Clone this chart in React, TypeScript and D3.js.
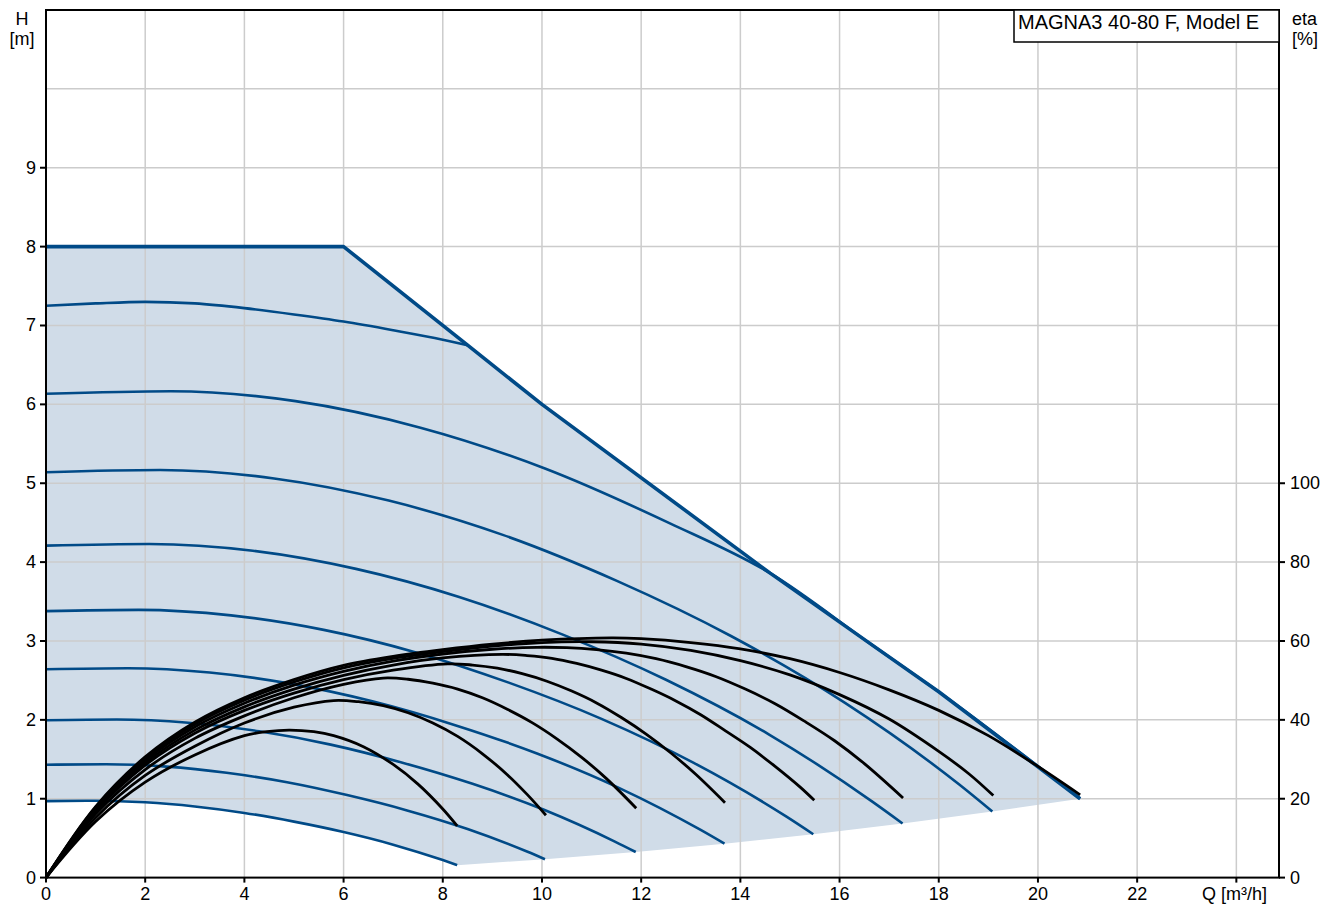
import * as d3 from 'd3';

const WIDTH = 1325;
const HEIGHT = 905;
const margin = { top: 10, right: 46, bottom: 27.4, left: 46 };
const Q_MAX = 24.86;
const H_MAX = 11;
const ETA_MAX = 220; // right axis: 20 % per metre of head

const qTicks = [0, 2, 4, 6, 8, 10, 12, 14, 16, 18, 20, 22, 24];
const qLabels = [0, 2, 4, 6, 8, 10, 12, 14, 16, 18, 20, 22];
const hTicks = [0, 1, 2, 3, 4, 5, 6, 7, 8, 9];
const hGrid = [1, 2, 3, 4, 5, 6, 7, 8, 9, 10];
const etaTicks = [0, 20, 40, 60, 80, 100];

// max curve [Q m³/h, H m]: constant-pressure part, then the power limit
const maxCurve = [[0, 8], [6, 8], [8.5, 6.75], [10, 6], [14.6, 3.86], [16.61, 2.97], [18, 2.356], [20.85, 1.0]];

// speed curves [Q, H], highest first
const curveA = [[0, 7.25], [1, 7.28], [2, 7.3], [3, 7.28], [4, 7.22], [5, 7.14], [6, 7.05], [7, 6.94], [8, 6.82], [8.5, 6.75]];
const curveB = [[0, 6.135], [2.52, 6.167], [5.03, 6.041], [7.55, 5.705], [10.06, 5.187], [12.58, 4.491], [14.6, 3.86], [16.61, 2.97], [18, 2.356], [20.85, 1.0]];
const curveC = [[0, 5.14], [2.3, 5.167], [4.6, 5.061], [6.91, 4.78], [9.21, 4.345], [11.51, 3.762], [13.81, 3.063], [16.11, 2.215], [18.42, 1.176], [19.08, 0.837]];
const curveD = [[0, 4.209], [2.08, 4.23], [4.17, 4.144], [6.25, 3.914], [8.33, 3.558], [10.42, 3.081], [12.5, 2.508], [14.58, 1.814], [16.66, 0.963], [17.27, 0.686]];
const curveE = [[0, 3.378], [1.87, 3.395], [3.73, 3.325], [5.6, 3.141], [7.46, 2.855], [9.33, 2.472], [11.2, 2.013], [13.06, 1.455], [14.93, 0.773], [15.47, 0.55]];
const curveF = [[0, 2.641], [1.65, 2.654], [3.3, 2.6], [4.95, 2.456], [6.6, 2.232], [8.25, 1.933], [9.9, 1.574], [11.55, 1.138], [13.2, 0.604], [13.68, 0.43]];
const curveG = [[0, 1.995], [1.43, 2.005], [2.87, 1.964], [4.3, 1.855], [5.74, 1.686], [7.17, 1.46], [8.6, 1.189], [10.04, 0.86], [11.47, 0.457], [11.89, 0.325]];
const curveH = [[0, 1.43], [1.21, 1.437], [2.43, 1.407], [3.64, 1.329], [4.86, 1.209], [6.07, 1.046], [7.28, 0.852], [8.5, 0.616], [9.71, 0.327], [10.06, 0.233]];
const curveI = [[0, 0.97], [1, 0.975], [2, 0.955], [3, 0.902], [4, 0.82], [5, 0.71], [6, 0.578], [7, 0.418], [8, 0.222], [8.29, 0.158]];

// efficiency curves [Q, eta %], lowest speed first
const eta1 = [[0, 0], [1, 14.2], [2, 24.2], [3, 31.1], [4, 36.0], [4.45, 37.0], [4.9, 37.4], [5.4, 37.0], [5.8, 36.0], [6.4, 33.2], [7.0, 28.7], [7.5, 23.7], [8.0, 17.4], [8.29, 13.1]];
const eta2 = [[0, 0], [1, 15.2], [2, 25.9], [3, 33.3], [4, 39.2], [5, 43.2], [5.8, 44.9], [6.3, 44.6], [6.8, 43.6], [7.3, 41.8], [7.8, 39.2], [8.3, 35.8], [8.8, 31.4], [9.3, 26.1], [9.7, 21.1], [10.08, 15.8]];
const eta3 = [[0, 0], [1, 16.1], [2, 27.4], [3, 35.3], [4, 41.0], [5, 45.6], [6, 49.0], [6.8, 50.6], [7.3, 50.3], [7.8, 49.3], [8.3, 47.8], [8.8, 45.6], [9.3, 42.7], [9.8, 39.3], [10.3, 35.2], [10.8, 30.5], [11.3, 25.1], [11.9, 17.6]];
const eta4 = [[0, 0], [1, 16.7], [2, 28.5], [3, 36.6], [4, 42.4], [5, 46.8], [6, 50.2], [7, 52.6], [8.1, 54.2], [8.6, 53.9], [9.1, 53.1], [9.6, 51.7], [10.1, 49.8], [10.6, 47.3], [11.1, 44.3], [11.6, 40.6], [12.1, 36.4], [12.6, 31.6], [13.1, 26.2], [13.69, 19.0]];
const eta5 = [[0, 0], [1, 17.1], [2, 29.1], [3, 37.4], [4, 43.3], [5, 47.8], [6, 51.3], [7, 53.9], [8, 55.7], [9.2, 56.6], [9.7, 56.3], [10.2, 55.6], [10.7, 54.3], [11.2, 52.6], [11.7, 50.5], [12.2, 47.8], [12.7, 44.8], [13.2, 41.3], [13.7, 37.2], [14.2, 33.0], [14.7, 28.2], [15.2, 23.0], [15.49, 19.6]];
const eta6 = [[0, 0], [1, 17.5], [2, 29.7], [3, 38.2], [4, 44.2], [5, 48.8], [6, 52.3], [7, 54.9], [8, 56.7], [9, 57.9], [9.9, 58.4], [10.5, 58.3], [11.1, 57.8], [11.7, 56.9], [12.3, 55.5], [12.9, 53.5], [13.5, 51.0], [14.1, 47.8], [14.7, 44.1], [15.3, 39.6], [15.9, 34.7], [16.5, 28.9], [17.28, 20.2]];
const eta7 = [[0, 0], [1, 17.8], [2, 30.2], [3, 38.9], [4, 45.0], [5, 49.6], [6, 53.2], [7, 55.6], [8, 57.3], [9, 58.7], [10, 59.6], [11, 59.8], [12, 59.2], [13, 57.6], [14, 55.0], [15, 51.4], [16, 46.4], [17, 40.2], [18, 32.0], [18.6, 26.4], [19.1, 20.8]];
const eta8 = [[0, 0], [1, 18.0], [2, 30.6], [3, 39.4], [4, 45.6], [5, 50.2], [6, 53.8], [7, 56.1], [8, 57.8], [9, 59.2], [10, 60.2], [11.4, 60.8], [12, 60.6], [13, 59.6], [14, 58.0], [15, 55.5], [16, 52.0], [17, 47.6], [18, 42.4], [19, 36.0], [20, 28.2], [20.85, 21.0]];

const speedCurves = [curveA, curveB, curveC, curveD, curveE, curveF, curveG, curveH, curveI];
const etaCurves = [eta1, eta2, eta3, eta4, eta5, eta6, eta7, eta8];

const BLUE = '#004a87';
const FILL = '#d0dce8';
const GRID = '#cccccc';
const FONT = '"Liberation Sans", Arial, sans-serif';

export default function App() {
  const x = d3.scaleLinear().domain([0, Q_MAX]).range([margin.left, WIDTH - margin.right]);
  const y = d3.scaleLinear().domain([0, H_MAX]).range([HEIGHT - margin.bottom, margin.top]);
  const yEta = d3.scaleLinear().domain([0, ETA_MAX]).range([HEIGHT - margin.bottom, margin.top]);

  const left = margin.left;
  const right = WIDTH - margin.right;
  const top = margin.top;
  const bottom = HEIGHT - margin.bottom;

  const headLine = d3.line<number[]>().x((d) => x(d[0])).y((d) => y(d[1])).curve(d3.curveMonotoneX);
  const straightLine = d3.line<number[]>().x((d) => x(d[0])).y((d) => y(d[1]));
  const etaLine = d3.line<number[]>().x((d) => x(d[0])).y((d) => yEta(d[1])).curve(d3.curveCatmullRom.alpha(0.5));

  // shaded operating range: max curve, curve end points, lowest curve back to Q = 0
  const endPoints = [curveC, curveD, curveE, curveF, curveG, curveH, curveI].map((c) => c[c.length - 1]);
  const area = [...maxCurve, ...endPoints, ...curveI.slice().reverse().slice(1)];

  return (
    <div style={{ position: 'absolute', left: 0, top: 0 }}>
      <svg width={WIDTH} height={HEIGHT} style={{ display: 'block', fontFamily: FONT }}>
        <rect width={WIDTH} height={HEIGHT} fill="#fff" />
        <path d={straightLine(area) + 'Z'} fill={FILL} />

        {qTicks.slice(1).map((t) => (
          <line key={`gx-${t}`} x1={x(t)} x2={x(t)} y1={top} y2={bottom} stroke={GRID} strokeWidth={1.5} />
        ))}
        {hGrid.map((t) => (
          <line key={`gy-${t}`} x1={left} x2={right} y1={y(t)} y2={y(t)} stroke={GRID} strokeWidth={1.5} />
        ))}

        {speedCurves.map((c, i) => (
          <path key={`s-${i}`} d={headLine(c) ?? undefined} fill="none" stroke={BLUE} strokeWidth={2.6} />
        ))}
        <path d={straightLine(maxCurve) ?? undefined} fill="none" stroke={BLUE} strokeWidth={3.6} strokeLinejoin="round" />

        {etaCurves.map((c, i) => (
          <path key={`e-${i}`} d={etaLine(c) ?? undefined} fill="none" stroke="#000" strokeWidth={2.8} />
        ))}

        <rect x={left} y={top} width={right - left} height={bottom - top} fill="none" stroke="#000" strokeWidth={2} />

        {hTicks.map((t) => (
          <g key={`hy-${t}`}>
            <line x1={left - 6} x2={left} y1={y(t)} y2={y(t)} stroke="#000" strokeWidth={2} />
            <text x={left - 10} y={y(t) + 6} textAnchor="end" fontSize={18}>{t}</text>
          </g>
        ))}
        {etaTicks.map((t) => (
          <g key={`ey-${t}`}>
            <line x1={right} x2={right + 6} y1={yEta(t)} y2={yEta(t)} stroke="#000" strokeWidth={2} />
            <text x={right + 11} y={yEta(t) + 6} fontSize={18}>{t}</text>
          </g>
        ))}
        {qTicks.map((t) => (
          <line key={`qt-${t}`} x1={x(t)} x2={x(t)} y1={bottom} y2={bottom + 5} stroke="#000" strokeWidth={2} />
        ))}
        {qLabels.map((t) => (
          <text key={`ql-${t}`} x={x(t)} y={HEIGHT - 5} textAnchor="middle" fontSize={18}>{t}</text>
        ))}

        <text x={1267} y={HEIGHT - 5} textAnchor="end" fontSize={18}>Q [m³/h]</text>
        <text x={22} y={25} textAnchor="middle" fontSize={18}>H</text>
        <text x={22} y={45} textAnchor="middle" fontSize={18}>[m]</text>
        <text x={1292} y={25} fontSize={18}>eta</text>
        <text x={1292} y={45} fontSize={18}>[%]</text>

        <rect x={1014} y={top} width={right - 1014} height={32} fill="#fff" stroke="#000" strokeWidth={1.5} />
        <text x={1018} y={top + 19} fontSize={20}>MAGNA3 40-80 F, Model E</text>
      </svg>
    </div>
  );
}
